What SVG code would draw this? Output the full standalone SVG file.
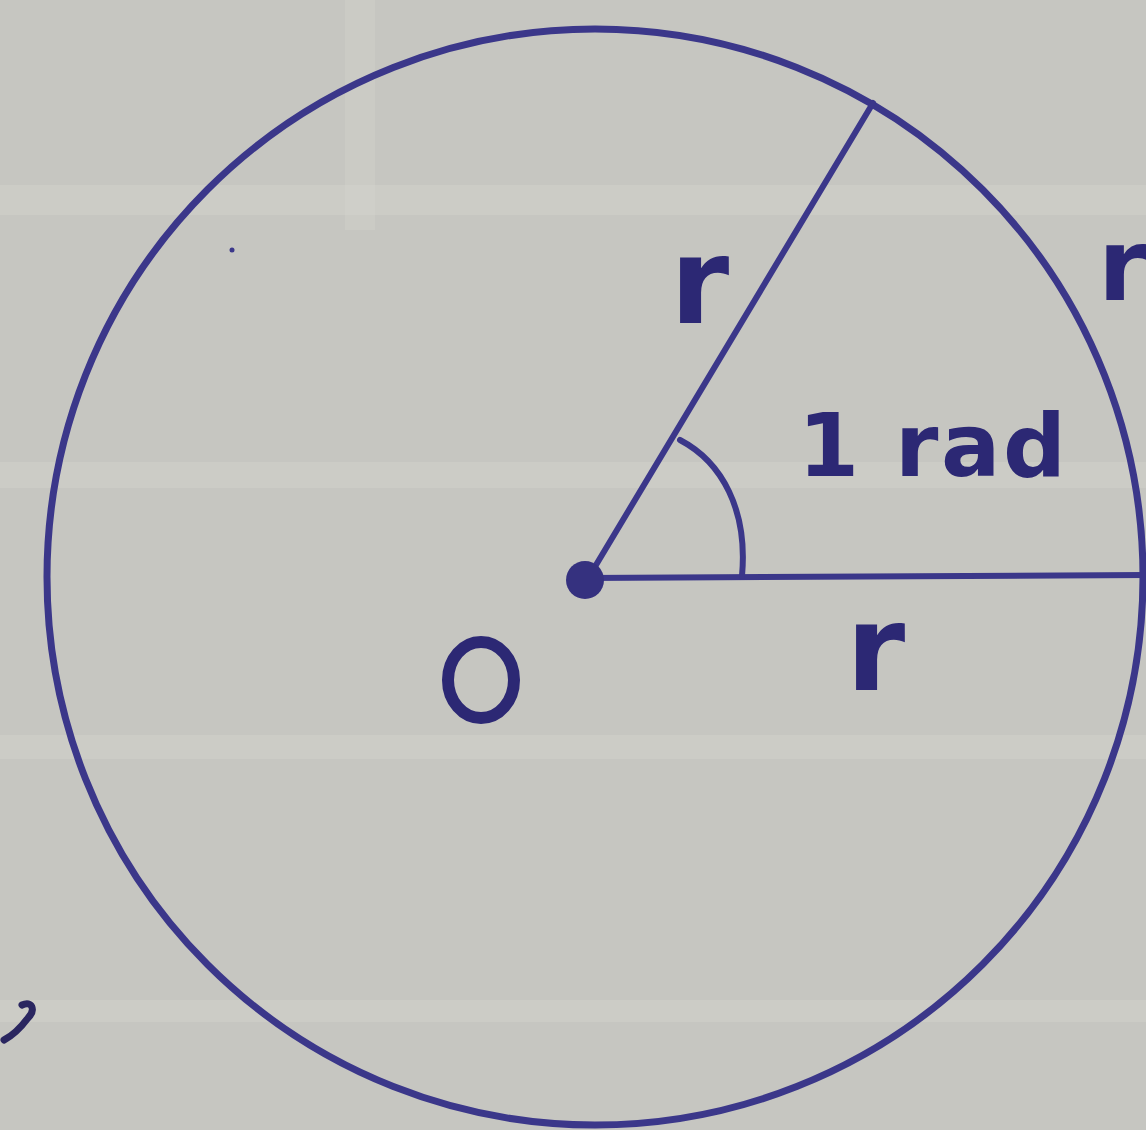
<svg xmlns="http://www.w3.org/2000/svg" width="1146" height="1130" viewBox="0 0 1146 1130">
<defs>
<style>
.ink{fill:none;stroke:#3b378a;stroke-linecap:round;stroke-linejoin:round}
.lbl{font-family:"DejaVu Sans","Liberation Sans",sans-serif;font-weight:bold;fill:#2c2874}
.band{fill:#d6d6d0;opacity:0.35}
</style>
</defs>
<rect x="0" y="0" width="1146" height="1130" fill="#c6c6c1"/>
<g id="paper">
<rect class="band" x="0" y="185" width="1146" height="30"/>
<rect class="band" x="0" y="462" width="1146" height="26"/>
<rect class="band" x="0" y="735" width="1146" height="24"/>
<rect class="band" x="0" y="1000" width="1146" height="22"/>
<rect x="345" y="0" width="30" height="230" fill="#d6d6d0" opacity="0.3"/>
</g>
<g id="circle">
<circle class="ink" cx="595" cy="577" r="548" stroke-width="7"/>
</g>
<g id="connectors">
<line class="ink" x1="587" y1="580" x2="873" y2="103" stroke-width="6"/>
<line class="ink" x1="587" y1="578" x2="1146" y2="575" stroke-width="6"/>
<path class="ink" d="M 680 440 C 722 462 748 510 742 576" stroke-width="6"/>
</g>
<g id="center">
<circle cx="585" cy="580" r="19" fill="#35317f"/>
</g>
<g id="labels">
<text class="lbl" x="670" y="323" font-size="120">r</text>
<text class="lbl" x="846" y="690" font-size="120">r</text>
<text class="lbl" x="1098" y="300" font-size="100">r</text>
<text class="lbl" x="798" y="476" font-size="88" textLength="268" lengthAdjust="spacing">1 rad</text>
<ellipse cx="481" cy="680" rx="33" ry="38" fill="none" stroke="#2c2874" stroke-width="12"/>
</g>
<g id="marks">
<path d="M 22 1005 C 32 1000 36 1010 28 1018 C 22 1026 12 1036 4 1040" fill="none" stroke="#2a2660" stroke-width="7" stroke-linecap="round"/>
<circle cx="232" cy="250" r="2.5" fill="#3b378a"/>
</g>
</svg>
